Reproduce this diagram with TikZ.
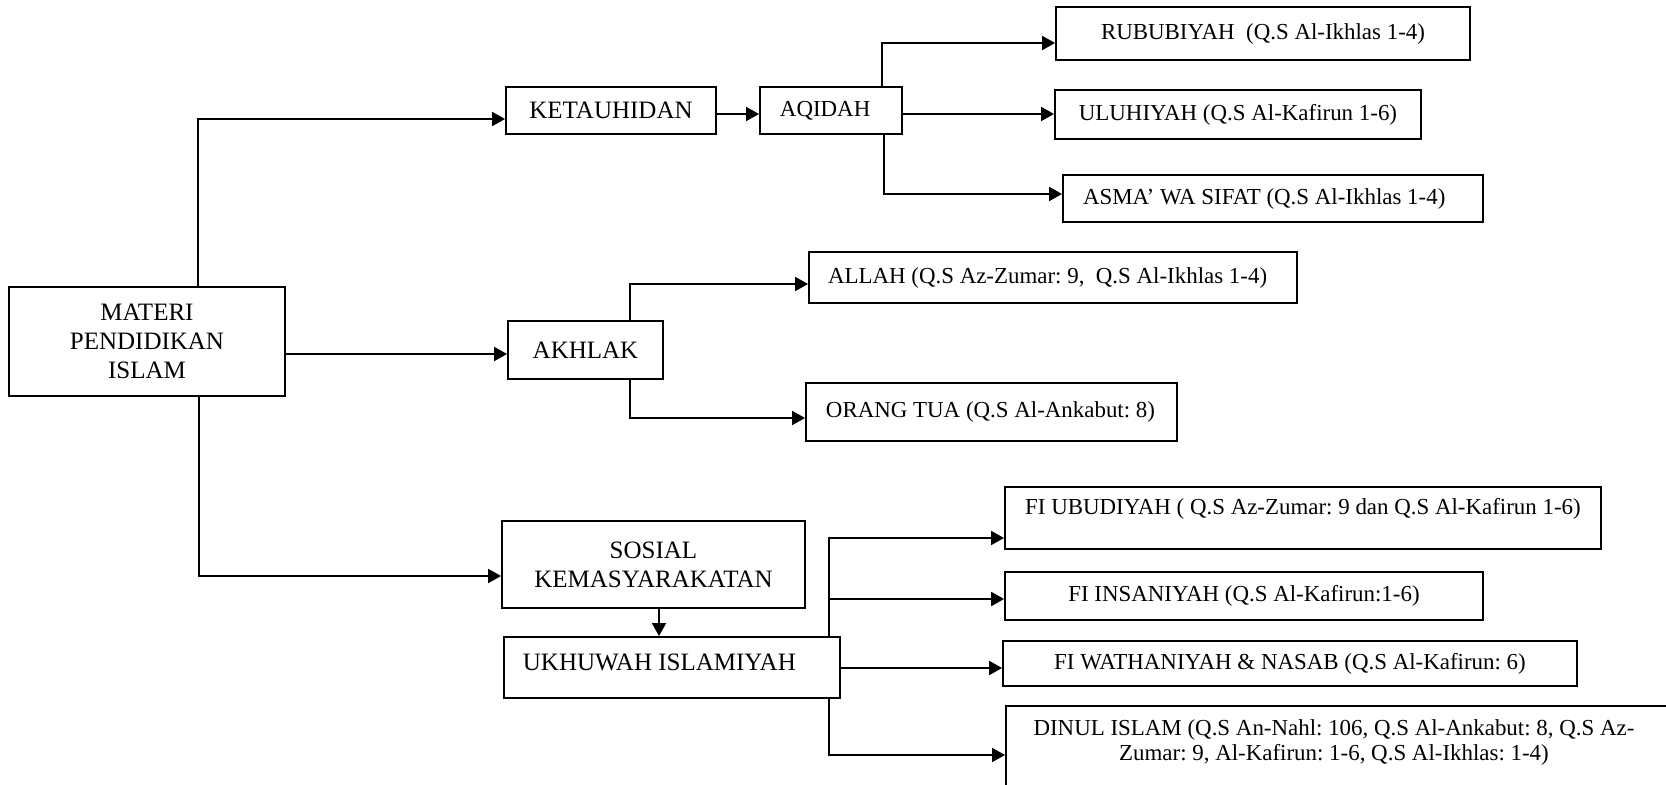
\documentclass[tikz,border=0pt]{standalone}
\usepackage{fontspec}
\setmainfont{Liberation Serif}
\usetikzlibrary{arrows.meta}
\frenchspacing
\begin{document}
\begin{tikzpicture}[x=0.48pt,y=-0.48pt,
  box/.style={draw, line width=0.9pt, inner sep=0pt, align=center},
  lbox/.style={draw, line width=0.9pt, inner ysep=0pt, align=flush left},
  big/.style={font=\fontsize{12}{13.8}\selectfont},
  small/.style={font=\fontsize{11}{12}\selectfont},
  arr/.style={line width=0.9pt, -{Triangle[length=6.2pt,width=6.7pt]}}]
\useasboundingbox (0,0) rectangle (1666,785);
\clip (0,0) rectangle (1666,785);

% nodes
\node[box,big,minimum width=132.5pt,minimum height=52.3pt] (materi) at (147,341.5) {MATERI\\PENDIDIKAN\\ISLAM};
\node[box,big,minimum width=100.8pt,minimum height=22.6pt] (ketau) at (611,110.5) {KETAUHIDAN};
\node[lbox,small,minimum height=22.6pt,inner xsep=9.6pt,text width=49pt] (aqidah) at (831,110.5) {\mbox{AQIDAH}};
\node[box,small,minimum width=198.7pt,minimum height=25.4pt] (rubu) at (1263,33.5) {RUBUBIYAH\ \ (Q.S Al-Ikhlas 1-4)};
\node[box,small,minimum width=175.7pt,minimum height=23.5pt] (ulu) at (1238,114.5) {ULUHIYAH (Q.S Al-Kafirun 1-6)};
\node[lbox,small,minimum height=22.6pt,inner xsep=9.6pt,text width=182.4pt] (asma) at (1273,198.5) {\mbox{ASMA’ WA SIFAT (Q.S Al-Ikhlas 1-4)}};
\node[lbox,small,minimum height=24.5pt,inner xsep=9.1pt,text width=216pt] (allah) at (1053,277.5) {\mbox{ALLAH (Q.S Az-Zumar: 9,\ \ Q.S Al-Ikhlas 1-4)}};
\node[box,big,minimum width=74.4pt,minimum height=27.8pt] (akhlak) at (585.5,350) {AKHLAK};
\node[lbox,small,minimum height=27.8pt,inner xsep=9.6pt,text width=158.9pt] (orang) at (991.5,412) {\mbox{ORANG TUA (Q.S Al-Ankabut: 8)}};
\node[box,big,minimum width=145.4pt,minimum height=41.8pt] (sosial) at (653.5,564.5) {SOSIAL\\KEMASYARAKATAN};
\node[lbox,big,inner xsep=9.1pt,text width=143.1pt,text height=16pt,text depth=13.3pt] (ukh) at (672,667.5) {\mbox{UKHUWAH ISLAMIYAH}};
\node[box,small,minimum width=286.1pt,text height=13.2pt,text depth=16.5pt] (ubud) at (1303,518) {FI UBUDIYAH ( Q.S Az-Zumar: 9 dan Q.S Al-Kafirun 1-6)};
\node[box,small,minimum width=229.4pt,minimum height=23pt] (insan) at (1244,596) {FI INSANIYAH (Q.S Al-Kafirun:1-6)};
\node[box,small,minimum width=275.5pt,minimum height=21.6pt] (wath) at (1290,663.5) {FI WATHANIYAH \& NASAB (Q.S Al-Kafirun: 6)};
\node[box,minimum width=317.8pt,minimum height=54.7pt] (dinul) at (1337,763) {};
\node[small,align=center,inner sep=0pt] (dinultext) at (1334,742.5) {DINUL ISLAM (Q.S An-Nahl: 106, Q.S Al-Ankabut: 8, Q.S Az-\\Zumar: 9, Al-Kafirun: 1-6, Q.S Al-Ikhlas: 1-4)};

% connectors
\draw[arr] (materi.north -| 198,0) |- (ketau.west |- 0,119);
\draw[arr] (materi.east |- 0,354) -- (akhlak.west |- 0,354);
\draw[arr] (materi.south -| 199,0) |- (sosial.west |- 0,576);
\draw[arr] (ketau.east |- 0,114) -- (aqidah.west |- 0,114);
\draw[arr] (aqidah.north -| 882,0) |- (rubu.west |- 0,43);
\draw[arr] (aqidah.east |- 0,114) -- (ulu.west |- 0,114);
\draw[arr] (aqidah.south -| 884,0) |- (asma.west |- 0,194);
\draw[arr] (akhlak.north -| 630,0) |- (allah.west |- 0,284);
\draw[arr] (akhlak.south -| 630,0) |- (orang.west |- 0,418);
\draw[arr] (sosial.south -| 659,0) -- (ukh.north -| 659,0);
\draw[arr] (ukh.north -| 829,0) |- (ubud.west |- 0,538);
\draw[arr] (ukh.north -| 829,0) |- (insan.west |- 0,599);
\draw[arr] (ukh.east |- 0,668) -- (wath.west |- 0,668);
\draw[arr] (ukh.south -| 829,0) |- (dinul.west |- 0,755);
\end{tikzpicture}
\end{document}
